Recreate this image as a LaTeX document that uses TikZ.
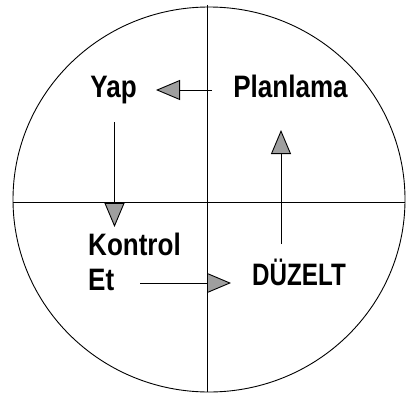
\documentclass[tikz,border=0pt]{standalone}
\usepackage{fontspec}
\newfontfamily\lbl{Liberation Sans}[FakeStretch=0.84]
\newfontfamily\lblnarrow{Liberation Sans}[FakeStretch=0.78]
\usetikzlibrary{arrows.meta}
\tikzset{
  lab/.style={font=\lbl\bfseries\fontsize{31}{33}\selectfont, inner sep=0pt, text=black},
  labn/.style={font=\lblnarrow\bfseries\fontsize{31}{33}\selectfont, inner sep=0pt, text=black},
  arr/.style={line width=0.9pt, -{Triangle[length=24pt,width=20pt,fill=gray!75,line width=0.9pt]}},
  frame/.style={line width=0.9pt}
}
\begin{document}
\begin{tikzpicture}[x=1pt,y=-1pt]
\useasboundingbox (0,0) rectangle (406,393);
% circle and cross
\draw[frame] (209,199.5) ellipse [x radius=196, y radius=192.5];
\coordinate (vt) at (207,5);
\coordinate (vb) at (207,392);
\coordinate (hl) at (13,202);
\coordinate (hr) at (405,202);
\draw[frame] (vt) -- (vb);
\draw[frame] (hl) -- (hr);
% labels
\node[lab, anchor=base] (yap) at (113.5,98) {Yap};
\node[lab, anchor=base] (plan) at (290.5,98) {Planlama};
\node[lab, anchor=base west] (kontrol) at (88,255) {Kontrol};
\node[lab, anchor=base west] (et) at (88,290) {Et};
\node[labn, anchor=base] (duzelt) at (299,285) {DÜZELT};
% connectors
\coordinate (a1s) at (212,90);  \coordinate (a1e) at (156,90);
\coordinate (a2s) at (114.5,122); \coordinate (a2e) at (114.5,227);
\coordinate (a3s) at (140,283); \coordinate (a3e) at (231,283);
\coordinate (a4s) at (281,244); \coordinate (a4e) at (281,130);
\draw[arr] (a1s) -- (a1e);
\draw[arr] (a2s) -- (a2e);
\draw[arr] (a3s) -- (a3e);
\draw[arr] (a4s) -- (a4e);
\end{tikzpicture}
\end{document}
